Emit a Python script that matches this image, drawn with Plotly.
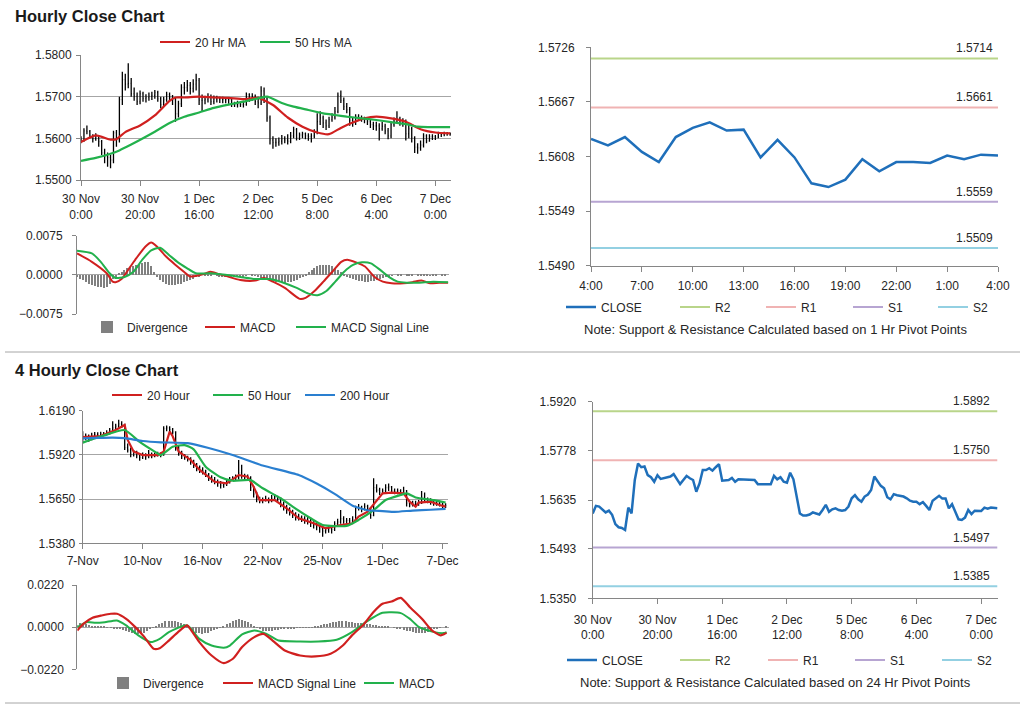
import plotly.graph_objects as go

W, H = 1024, 706
FONT = "Liberation Sans, Arial, sans-serif"
TXT = "#262626"
GRID = "#a6a6a6"
AXIS = "#868686"
RED = "#d0201f"
GREEN = "#22b14c"
BLUE200 = "#2a7fd0"
CLOSE_BLUE = "#1f6fba"
R2_COL = "#b9d58a"
R1_COL = "#f0b3b3"
S1_COL = "#b7a5d2"
S2_COL = "#93d0e2"
BAR_GREY = "#808080"

# ------------------------------------------------------------------ data
# Hourly chart (30 Nov 0:00 -> 7 Dec ~5:00), one value per hour
hourly_tick_hours = [0, 20, 40, 60, 80, 100, 120]
hourly_tick_labels = ["30 Nov<br>0:00", "30 Nov<br>20:00", "1 Dec<br>16:00", "2 Dec<br>12:00",
                      "5 Dec<br>8:00", "6 Dec<br>4:00", "7 Dec<br>0:00"]
hourly_close = [1.5596, 1.5618, 1.5616, 1.5606, 1.5599, 1.5604, 1.5592, 1.5565, 1.5556, 1.5554,
                1.5548, 1.5613, 1.5596, 1.5693, 1.5741, 1.5730, 1.5732, 1.5707, 1.5701, 1.5688,
                1.5707, 1.5696, 1.5698, 1.5701, 1.5703, 1.5710, 1.5695, 1.5681, 1.5693, 1.5705,
                1.5698, 1.5693, 1.5659, 1.5683, 1.5722, 1.5722, 1.5727, 1.5720, 1.5730, 1.5739,
                1.5691, 1.5691, 1.5693, 1.5699, 1.5688, 1.5695, 1.5695, 1.5695, 1.5693, 1.5693,
                1.5693, 1.5681, 1.5681, 1.5681, 1.5681, 1.5681, 1.5705, 1.5695, 1.5701, 1.5688,
                1.5685, 1.5714, 1.5695, 1.5649, 1.5596, 1.5590, 1.5590, 1.5593, 1.5599, 1.5596,
                1.5593, 1.5606, 1.5621, 1.5601, 1.5608, 1.5611, 1.5606, 1.5604, 1.5606, 1.5616,
                1.5640, 1.5649, 1.5637, 1.5630, 1.5645, 1.5651, 1.5664, 1.5703, 1.5691, 1.5676,
                1.5669, 1.5643, 1.5637, 1.5652, 1.5649, 1.5647, 1.5645, 1.5640, 1.5633, 1.5630,
                1.5630, 1.5623, 1.5629, 1.5618, 1.5606, 1.5633, 1.5640, 1.5647, 1.5639, 1.5639,
                1.5611, 1.5623, 1.5601, 1.5579, 1.5577, 1.5584, 1.5606, 1.5594, 1.5604, 1.5604,
                1.5603, 1.5613, 1.5610, 1.5613, 1.5612, 1.5611]
hourly_high = [1.5605, 1.5624, 1.5631, 1.5620, 1.5610, 1.5612, 1.5608, 1.5596, 1.5575, 1.5566,
               1.5560, 1.5618, 1.5620, 1.5700, 1.5760, 1.5755, 1.5780, 1.5745, 1.5722, 1.5710,
               1.5715, 1.5712, 1.5706, 1.5710, 1.5712, 1.5716, 1.5714, 1.5700, 1.5700, 1.5712,
               1.5710, 1.5704, 1.5698, 1.5690, 1.5730, 1.5735, 1.5740, 1.5735, 1.5742, 1.5755,
               1.5745, 1.5705, 1.5702, 1.5708, 1.5705, 1.5703, 1.5702, 1.5700, 1.5700, 1.5698,
               1.5699, 1.5697, 1.5688, 1.5690, 1.5688, 1.5690, 1.5710, 1.5708, 1.5708, 1.5705,
               1.5700, 1.5725, 1.5722, 1.5700, 1.5655, 1.5605, 1.5600, 1.5602, 1.5608, 1.5605,
               1.5610, 1.5615, 1.5628, 1.5625, 1.5614, 1.5616, 1.5614, 1.5612, 1.5612, 1.5622,
               1.5660, 1.5665, 1.5655, 1.5645, 1.5652, 1.5660, 1.5675, 1.5710, 1.5715, 1.5698,
               1.5685, 1.5675, 1.5650, 1.5658, 1.5658, 1.5655, 1.5652, 1.5650, 1.5645, 1.5640,
               1.5640, 1.5636, 1.5640, 1.5635, 1.5625, 1.5640, 1.5650, 1.5665, 1.5652, 1.5648,
               1.5645, 1.5632, 1.5628, 1.5605, 1.5588, 1.5595, 1.5612, 1.5610, 1.5610, 1.5610,
               1.5608, 1.5616, 1.5615, 1.5616, 1.5615, 1.5614]
hourly_low = [1.5588, 1.5592, 1.5610, 1.5600, 1.5590, 1.5594, 1.5580, 1.5560, 1.5540, 1.5532,
              1.5528, 1.5540, 1.5580, 1.5590, 1.5680, 1.5715, 1.5720, 1.5700, 1.5690, 1.5680,
              1.5682, 1.5688, 1.5686, 1.5690, 1.5692, 1.5695, 1.5688, 1.5672, 1.5675, 1.5688,
              1.5690, 1.5680, 1.5640, 1.5650, 1.5675, 1.5705, 1.5712, 1.5705, 1.5710, 1.5715,
              1.5680, 1.5665, 1.5682, 1.5686, 1.5680, 1.5682, 1.5686, 1.5685, 1.5684, 1.5684,
              1.5683, 1.5675, 1.5675, 1.5674, 1.5675, 1.5674, 1.5678, 1.5688, 1.5690, 1.5680,
              1.5672, 1.5680, 1.5685, 1.5640, 1.5585, 1.5575, 1.5580, 1.5582, 1.5585, 1.5588,
              1.5585, 1.5588, 1.5600, 1.5595, 1.5596, 1.5600, 1.5598, 1.5594, 1.5590, 1.5600,
              1.5610, 1.5632, 1.5625, 1.5620, 1.5625, 1.5640, 1.5645, 1.5660, 1.5685, 1.5668,
              1.5660, 1.5630, 1.5628, 1.5632, 1.5642, 1.5640, 1.5636, 1.5632, 1.5625, 1.5620,
              1.5618, 1.5595, 1.5618, 1.5610, 1.5598, 1.5600, 1.5628, 1.5635, 1.5630, 1.5628,
              1.5595, 1.5600, 1.5590, 1.5565, 1.5563, 1.5570, 1.5578, 1.5588, 1.5592, 1.5596,
              1.5596, 1.5600, 1.5603, 1.5605, 1.5606, 1.5606]
ma20_hr_x = [0, 5, 10, 12, 15, 20, 25, 30, 32, 35, 40, 45, 50, 55, 60, 65, 70, 75, 80, 84,
             88, 92, 96, 100, 105, 110, 115, 120, 125]
ma20_hr = [1.5591, 1.5607, 1.5597, 1.5598, 1.5615, 1.5631, 1.5655, 1.5690, 1.5698, 1.5698,
           1.5700, 1.5698, 1.5697, 1.5694, 1.5697, 1.5680, 1.5650, 1.5628, 1.5614, 1.5610,
           1.5625, 1.5638, 1.5648, 1.5652, 1.5648, 1.5640, 1.5622, 1.5614, 1.5612]
ma50_hr_x = [0, 5, 10, 13, 17, 21, 25, 30, 35, 40, 45, 50, 55, 60, 63, 68, 72, 77, 82, 86,
             90, 95, 100, 105, 110, 114, 118, 125]
ma50_hr = [1.5546, 1.5553, 1.5563, 1.5571, 1.5585, 1.5600, 1.5616, 1.5637, 1.5652, 1.5662,
           1.5673, 1.5681, 1.5688, 1.5696, 1.5700, 1.5685, 1.5676, 1.5668, 1.5660, 1.5656,
           1.5652, 1.5648, 1.5644, 1.5639, 1.5634, 1.5628, 1.5627, 1.5627]

# Hourly MACD panel
divergence_hr = [-0.0004, -0.0007, -0.0010, -0.0013, -0.0016, -0.0018, -0.0020, -0.0022, -0.0023, -0.0024,
                 -0.0022, -0.0016, -0.0008, -0.0002, 0.0004, 0.0007, 0.0010, 0.0013, 0.0016, 0.0018,
                 0.0020, 0.0022, 0.0024, 0.0026, 0.0026, 0.0018, 0.0006, -0.0004, -0.0010, -0.0014,
                 -0.0017, -0.0018, -0.0018, -0.0018, -0.0017, -0.0016, -0.0014, -0.0012, -0.0010, -0.0007,
                 -0.0004, -0.0002, 0.0000, 0.0002, 0.0002, 0.0001, 0.0000, -0.0001, -0.0002, -0.0002,
                 -0.0002, -0.0002, -0.0002, -0.0003, -0.0002, -0.0002, -0.0002, -0.0001, 0.0000, 0.0001,
                 -0.0001, -0.0003, -0.0005, -0.0007, -0.0009, -0.0011, -0.0012, -0.0013, -0.0014, -0.0015,
                 -0.0015, -0.0014, -0.0013, -0.0011, -0.0009, -0.0006, -0.0002, 0.0002, 0.0006, 0.0010,
                 0.0014, 0.0017, 0.0019, 0.0020, 0.0020, 0.0019, 0.0017, 0.0014, 0.0010, 0.0006,
                 0.0002, -0.0002, -0.0005, -0.0008, -0.0010, -0.0011, -0.0012, -0.0013, -0.0013, -0.0012,
                 -0.0011, -0.0009, -0.0007, -0.0005, -0.0003, -0.0002, -0.0001, 0.0000, 0.0001, 0.0001,
                 0.0000, 0.0001, 0.0001, 0.0001, 0.0000, 0.0001, 0.0002, 0.0001, 0.0001, -0.0001,
                 0.0001, 0.0001, 0.0000, 0.0001, 0.0001, 0.0000]
macd_hr_x = [0, 5, 10, 12, 13, 15, 18, 20, 23, 25, 27, 30, 33, 36, 38, 40, 43, 45, 48, 50,
             55, 60, 63, 66, 70, 75, 77, 80, 83, 86, 89, 91, 94, 97, 100, 103, 106, 110, 113, 116,
             119, 122, 125]
macd_hr = [0.0041, 0.0025, 0.0003, -0.0013, -0.0014, -0.0008, 0.0016, 0.0032, 0.0054, 0.0062,
           0.0054, 0.0035, 0.0020, 0.0006, -0.0003, -0.0002, 0.0002, 0.0006, 0.0001, -0.0002,
           -0.0010, -0.0011, -0.0006, -0.0013, -0.0025, -0.0046, -0.0044, -0.0031, -0.0013, 0.0006,
           0.0025, 0.0029, 0.0024, 0.0016, -0.0003, -0.0013, -0.0016, -0.0016, -0.0014, -0.0011,
           -0.0016, -0.0015, -0.0015]
signal_hr_x = [0, 5, 8, 11, 13, 16, 19, 22, 25, 28, 31, 34, 37, 40, 45, 50, 55, 60, 65, 70,
               74, 78, 81, 84, 87, 90, 93, 96, 99, 102, 105, 108, 111, 115, 120, 125]
signal_hr = [0.0046, 0.0041, 0.0025, 0.0003, -0.0006, -0.0004, 0.0006, 0.0029, 0.0047, 0.0052,
             0.0038, 0.0024, 0.0013, 0.0003, 0.0003, 0.0000, -0.0004, -0.0008, -0.0008, -0.0016,
             -0.0025, -0.0036, -0.0039, -0.0031, -0.0013, 0.0006, 0.0019, 0.0024, 0.0022, 0.0010,
             -0.0004, -0.0013, -0.0015, -0.0015, -0.0013, -0.0014]

# 1 Hr pivot panel (4:00 -> 4:00)
pivot1_tick_hours = [0, 3, 6, 9, 12, 15, 18, 21, 24]
pivot1_tick_labels = ["4:00", "7:00", "10:00", "13:00", "16:00", "19:00", "22:00", "1:00", "4:00"]
pivot1_close = [1.5627, 1.5620, 1.5629, 1.5613, 1.5602, 1.5629, 1.5639, 1.5645, 1.5636, 1.5637,
                1.5607, 1.5626, 1.5607, 1.5579, 1.5575, 1.5583, 1.5605, 1.5592, 1.5602, 1.5602,
                1.5601, 1.5609, 1.5605, 1.5610, 1.5609]
pivot1_levels = {"R2": 1.5714, "R1": 1.5661, "S1": 1.5559, "S2": 1.5509}
pivot1_yticks = [1.5490, 1.5549, 1.5608, 1.5667, 1.5726]

# 4 hourly chart (7 Nov -> 7 Dec), one value per 4-hour bar
h4_tick_bars = [0, 20, 40, 60, 80, 100, 120]
h4_tick_labels = ["7-Nov", "10-Nov", "16-Nov", "22-Nov", "25-Nov", "1-Dec", "7-Dec"]
h4_close = [1.6020, 1.6035, 1.6015, 1.6040, 1.6045, 1.6040, 1.6050, 1.6045, 1.6055, 1.6070,
            1.6085, 1.6095, 1.6110, 1.6105, 1.5965, 1.5950, 1.5920, 1.5935, 1.5915, 1.5905,
            1.5920, 1.5910, 1.5925, 1.5915, 1.5920, 1.5925, 1.5920, 1.6080, 1.6085, 1.6075,
            1.6060, 1.5960, 1.5930, 1.5910, 1.5905, 1.5895, 1.5880, 1.5860, 1.5840, 1.5830,
            1.5820, 1.5800, 1.5780, 1.5770, 1.5760, 1.5745, 1.5735, 1.5740, 1.5755, 1.5770,
            1.5775, 1.5780, 1.5810, 1.5790, 1.5785, 1.5780, 1.5720, 1.5680, 1.5650, 1.5640,
            1.5645, 1.5650, 1.5640, 1.5655, 1.5660, 1.5650, 1.5620, 1.5600, 1.5580, 1.5570,
            1.5555, 1.5545, 1.5540, 1.5530, 1.5525, 1.5515, 1.5500, 1.5490, 1.5480, 1.5470,
            1.5455, 1.5460, 1.5470, 1.5465, 1.5500, 1.5510, 1.5530, 1.5515, 1.5520, 1.5515,
            1.5525, 1.5595, 1.5600, 1.5590, 1.5605, 1.5595, 1.5550, 1.5720, 1.5705, 1.5690,
            1.5700, 1.5720, 1.5725, 1.5700, 1.5695, 1.5700, 1.5690, 1.5700, 1.5625, 1.5615,
            1.5625, 1.5620, 1.5630, 1.5660, 1.5650, 1.5640, 1.5630, 1.5625, 1.5630, 1.5620,
            1.5615, 1.5610]
h4_high = [1.6065, 1.6050, 1.6045, 1.6055, 1.6060, 1.6058, 1.6062, 1.6060, 1.6070, 1.6085,
           1.6125, 1.6110, 1.6135, 1.6125, 1.6110, 1.5990, 1.5965, 1.5950, 1.5945, 1.5925,
           1.5935, 1.5930, 1.5950, 1.5935, 1.5935, 1.5940, 1.5935, 1.6095, 1.6100, 1.6095,
           1.6085, 1.6065, 1.5975, 1.5945, 1.5925, 1.5915, 1.5905, 1.5890, 1.5870, 1.5855,
           1.5845, 1.5830, 1.5810, 1.5795, 1.5785, 1.5770, 1.5760, 1.5755, 1.5770, 1.5785,
           1.5790, 1.5800, 1.5889, 1.5860, 1.5805, 1.5800, 1.5790, 1.5730, 1.5695, 1.5665,
           1.5660, 1.5670, 1.5660, 1.5675, 1.5680, 1.5670, 1.5660, 1.5635, 1.5615, 1.5600,
           1.5585, 1.5570, 1.5560, 1.5550, 1.5545, 1.5540, 1.5530, 1.5515, 1.5505, 1.5495,
           1.5485, 1.5480, 1.5490, 1.5485, 1.5515, 1.5530, 1.5583, 1.5545, 1.5535, 1.5535,
           1.5545, 1.5610, 1.5620, 1.5610, 1.5625, 1.5615, 1.5600, 1.5777, 1.5740, 1.5720,
           1.5715, 1.5740, 1.5745, 1.5730, 1.5715, 1.5715, 1.5710, 1.5725, 1.5705, 1.5640,
           1.5640, 1.5640, 1.5645, 1.5700, 1.5690, 1.5660, 1.5655, 1.5650, 1.5645, 1.5640,
           1.5630, 1.5625]
h4_low = [1.5995, 1.6010, 1.6000, 1.6010, 1.6030, 1.6028, 1.6032, 1.6035, 1.6038, 1.6045,
          1.6060, 1.6075, 1.6085, 1.6085, 1.5950, 1.5935, 1.5905, 1.5910, 1.5900, 1.5885,
          1.5895, 1.5890, 1.5900, 1.5900, 1.5905, 1.5910, 1.5905, 1.5915, 1.6065, 1.6060,
          1.6045, 1.5945, 1.5915, 1.5895, 1.5890, 1.5880, 1.5860, 1.5840, 1.5820, 1.5810,
          1.5800, 1.5785, 1.5760, 1.5750, 1.5740, 1.5725, 1.5715, 1.5720, 1.5730, 1.5745,
          1.5760, 1.5765, 1.5770, 1.5775, 1.5770, 1.5760, 1.5700, 1.5660, 1.5630, 1.5625,
          1.5625, 1.5635, 1.5625, 1.5630, 1.5640, 1.5630, 1.5600, 1.5580, 1.5560, 1.5550,
          1.5535, 1.5520, 1.5520, 1.5510, 1.5500, 1.5495, 1.5480, 1.5470, 1.5460, 1.5445,
          1.5420, 1.5440, 1.5445, 1.5440, 1.5455, 1.5490, 1.5500, 1.5500, 1.5500, 1.5500,
          1.5505, 1.5515, 1.5580, 1.5570, 1.5580, 1.5575, 1.5530, 1.5545, 1.5690, 1.5675,
          1.5680, 1.5690, 1.5700, 1.5685, 1.5680, 1.5680, 1.5675, 1.5680, 1.5605, 1.5600,
          1.5605, 1.5605, 1.5610, 1.5620, 1.5635, 1.5625, 1.5615, 1.5610, 1.5610, 1.5605,
          1.5585, 1.5595]
ma20_4h_x = [0, 6, 11, 14, 15, 17, 20, 25, 27, 29, 30, 32, 36, 39, 44, 48, 52, 55, 57, 59,
             64, 68, 72, 77, 81, 86, 90, 92, 95, 98, 100, 103, 107, 109, 111, 112, 116, 119, 121]
ma20_4h = [1.6028, 1.6035, 1.6072, 1.6103, 1.6011, 1.5940, 1.5919, 1.5919, 1.5940, 1.6062,
           1.6034, 1.5940, 1.5889, 1.5828, 1.5756, 1.5746, 1.5797, 1.5787, 1.5726, 1.5644,
           1.5644, 1.5594, 1.5533, 1.5502, 1.5472, 1.5492, 1.5502, 1.5543, 1.5573, 1.5644,
           1.5685, 1.5689, 1.5685, 1.5634, 1.5604, 1.5629, 1.5634, 1.5614, 1.5604]
ma50_4h_x = [0, 6, 14, 19, 24, 26, 30, 34, 37, 41, 46, 50, 56, 60, 66, 70, 76, 80, 88, 92,
             97, 101, 106, 108, 111, 117, 121]
ma50_4h = [1.5995, 1.6032, 1.6072, 1.5999, 1.5940, 1.5919, 1.5970, 1.5980, 1.5954, 1.5848,
           1.5783, 1.5762, 1.5766, 1.5716, 1.5655, 1.5604, 1.5533, 1.5492, 1.5486, 1.5523,
           1.5583, 1.5644, 1.5675, 1.5685, 1.5660, 1.5644, 1.5629]
ma200_4h_x = [0, 5, 10, 14, 20, 26, 35, 42, 50, 60, 72, 78, 84, 90, 95, 100, 104, 110, 116, 121]
ma200_4h = [1.6021, 1.6024, 1.6026, 1.6022, 1.6005, 1.5997, 1.5992, 1.5962, 1.5919, 1.5855,
            1.5797, 1.5745, 1.5682, 1.5610, 1.5582, 1.5577, 1.5572, 1.5580, 1.5585, 1.5590]

# 4 hourly MACD panel
divergence_4h = [0.0012, 0.0020, 0.0022, 0.0018, 0.0012, 0.0008, 0.0005, 0.0003, 0.0002, 0.0001,
                 -0.0002, -0.0004, -0.0006, -0.0008, -0.0010, -0.0014, -0.0018, -0.0024, -0.0030, -0.0034,
                 -0.0036, -0.0034, -0.0030, -0.0022, -0.0012, -0.0002, 0.0008, 0.0016, 0.0024, 0.0030,
                 0.0034, 0.0034, 0.0032, 0.0028, 0.0022, 0.0014, 0.0004, -0.0010, -0.0020, -0.0028,
                 -0.0032, -0.0034, -0.0032, -0.0028, -0.0022, -0.0016, -0.0010, -0.0004, 0.0004, 0.0014,
                 0.0024, 0.0032, 0.0038, 0.0040, 0.0038, 0.0034, 0.0026, 0.0016, 0.0006, -0.0004,
                 -0.0012, -0.0018, -0.0020, -0.0020, -0.0018, -0.0016, -0.0014, -0.0012, -0.0010, -0.0008,
                 -0.0006, -0.0005, -0.0004, -0.0003, -0.0002, -0.0002, -0.0002, -0.0001, 0.0002, 0.0006,
                 0.0010, 0.0014, 0.0018, 0.0022, 0.0026, 0.0028, 0.0030, 0.0030, 0.0030, 0.0028,
                 0.0026, 0.0024, 0.0022, 0.0020, 0.0018, 0.0016, 0.0014, 0.0012, 0.0010, 0.0008,
                 0.0006, 0.0004, 0.0002, 0.0000, -0.0002, -0.0006, -0.0010, -0.0014, -0.0018, -0.0022,
                 -0.0026, -0.0028, -0.0030, -0.0030, -0.0028, -0.0024, -0.0018, -0.0012, -0.0006, -0.0002,
                 0.0000, 0.0002]
signal_4h_x = [0, 2, 5, 8, 11, 13, 16, 19, 22, 25, 27, 30, 33, 36, 37, 40, 44, 48, 51, 54,
               58, 61, 64, 68, 73, 78, 83, 87, 90, 94, 97, 100, 103, 106, 109, 113, 116, 119, 120, 121]
signal_4h = [-0.0017, 0.0017, 0.0049, 0.0061, 0.0070, 0.0070, 0.0043, 0.0000, -0.0052, -0.0113,
             -0.0110, -0.0070, -0.0026, 0.0009, -0.0009, -0.0078, -0.0148, -0.0188, -0.0165, -0.0104,
             -0.0052, -0.0035, -0.0070, -0.0122, -0.0148, -0.0153, -0.0139, -0.0096, -0.0043, 0.0017,
             0.0078, 0.0122, 0.0134, 0.0153, 0.0104, 0.0043, -0.0014, -0.0043, -0.0038, -0.0030]
macd_4h_x = [0, 3, 6, 9, 13, 16, 20, 24, 27, 30, 36, 40, 44, 48, 50, 54, 58, 62, 66, 73,
             79, 85, 90, 95, 100, 106, 109, 112, 117, 120, 121]
macd_4h = [0.0000, 0.0026, 0.0023, 0.0026, 0.0035, 0.0009, -0.0043, -0.0078, -0.0061, -0.0026,
           0.0009, -0.0061, -0.0096, -0.0108, -0.0096, -0.0038, -0.0017, -0.0035, -0.0070, -0.0075,
           -0.0075, -0.0066, -0.0026, 0.0031, 0.0075, 0.0073, 0.0043, 0.0000, -0.0026, -0.0031,
           -0.0026]

# 24 Hr pivot panel: hourly close line
pivot24_levels = {"R2": 1.5892, "R1": 1.5750, "S1": 1.5497, "S2": 1.5385}
pivot24_yticks = [1.5350, 1.5493, 1.5635, 1.5778, 1.5920]

hour_idx = list(range(len(hourly_close)))
h4_idx = list(range(len(h4_close)))
pivot1_idx = list(range(len(pivot1_close)))
hourly_open = [hourly_close[0]] + hourly_close[:-1]
h4_open = [h4_close[0]] + h4_close[:-1]

level_colors = {"R2": R2_COL, "R1": R1_COL, "S1": S1_COL, "S2": S2_COL}
level_legendwidth_1 = {"R2": 41, "R1": 42, "S1": 40, "S2": 40}
level_legendwidth_24 = {"R2": 43, "R1": 42, "S1": 42, "S2": 40}


# ------------------------------------------------------------------ helpers
def dom_x(a, b):
    return [a / W, b / W]


def dom_y(top, bottom):
    return [1 - bottom / H, 1 - top / H]


tickfont = dict(size=12, color=TXT, family=FONT)

fig = go.Figure()

# ---- A: hourly price
fig.add_trace(go.Ohlc(x=hour_idx, open=hourly_open, high=hourly_high, low=hourly_low, close=hourly_close,
                      increasing=dict(line=dict(color="black", width=1.3)),
                      decreasing=dict(line=dict(color="black", width=1.3)),
                      tickwidth=0.25, showlegend=False, hoverinfo="skip", xaxis="x", yaxis="y"))
fig.add_trace(go.Scatter(x=ma20_hr_x, y=ma20_hr, mode="lines", name="20 Hr MA", legendwidth=55,
                         line=dict(color=RED, width=2.2, shape="spline", smoothing=0.6),
                         xaxis="x", yaxis="y", legend="legend"))
fig.add_trace(go.Scatter(x=ma50_hr_x, y=ma50_hr, mode="lines", name="50 Hrs MA",
                         line=dict(color=GREEN, width=2.2, shape="spline", smoothing=0.6),
                         xaxis="x", yaxis="y", legend="legend"))

# ---- B: hourly MACD
fig.add_trace(go.Bar(x=hour_idx, y=divergence_hr, width=0.35, name="Divergence",
                     marker=dict(color=BAR_GREY, line=dict(width=0)), legendwidth=68,
                     xaxis="x2", yaxis="y2", legend="legend2"))
fig.add_trace(go.Scatter(x=macd_hr_x, y=macd_hr, mode="lines", name="MACD", legendwidth=46,
                         line=dict(color=RED, width=2, shape="spline", smoothing=0.6),
                         xaxis="x2", yaxis="y2", legend="legend2"))
fig.add_trace(go.Scatter(x=signal_hr_x, y=signal_hr, mode="lines", name="MACD Signal Line",
                         line=dict(color=GREEN, width=2, shape="spline", smoothing=0.6),
                         xaxis="x2", yaxis="y2", legend="legend2"))

# ---- C: 1 Hr pivot chart
fig.add_trace(go.Scatter(x=pivot1_idx, y=pivot1_close, mode="lines", name="CLOSE", legendwidth=69,
                         line=dict(color=CLOSE_BLUE, width=2.5), xaxis="x3", yaxis="y3", legend="legend3"))
for k, v in pivot1_levels.items():
    fig.add_trace(go.Scatter(x=pivot1_idx, y=[v] * len(pivot1_idx), mode="lines", name=k,
                             legendwidth=level_legendwidth_1[k], line=dict(color=level_colors[k], width=2),
                             xaxis="x3", yaxis="y3", legend="legend3"))

# ---- D: 4 hourly price
fig.add_trace(go.Ohlc(x=h4_idx, open=h4_open, high=h4_high, low=h4_low, close=h4_close,
                      increasing=dict(line=dict(color="black", width=1.3)),
                      decreasing=dict(line=dict(color="black", width=1.3)),
                      tickwidth=0.25, showlegend=False, hoverinfo="skip", xaxis="x4", yaxis="y4"))
fig.add_trace(go.Scatter(x=ma20_4h_x, y=ma20_4h, mode="lines", name="20 Hour", legendwidth=56,
                         line=dict(color=RED, width=2.2), xaxis="x4", yaxis="y4", legend="legend4"))
fig.add_trace(go.Scatter(x=ma50_4h_x, y=ma50_4h, mode="lines", name="50 Hour", legendwidth=47,
                         line=dict(color=GREEN, width=2.2, shape="spline", smoothing=0.5),
                         xaxis="x4", yaxis="y4", legend="legend4"))
fig.add_trace(go.Scatter(x=ma200_4h_x, y=ma200_4h, mode="lines", name="200 Hour",
                         line=dict(color=BLUE200, width=2.2, shape="spline", smoothing=0.5),
                         xaxis="x4", yaxis="y4", legend="legend4"))

# ---- E: 4 hourly MACD
fig.add_trace(go.Bar(x=h4_idx, y=divergence_4h, width=0.35, name="Divergence",
                     marker=dict(color=BAR_GREY, line=dict(width=0)), legendwidth=70,
                     xaxis="x5", yaxis="y5", legend="legend5"))
fig.add_trace(go.Scatter(x=macd_4h_x, y=macd_4h, mode="lines", name="MACD",
                         line=dict(color=GREEN, width=2, shape="spline", smoothing=0.6),
                         xaxis="x5", yaxis="y5", showlegend=False, legend="legend5"))
fig.add_trace(go.Scatter(x=signal_4h_x, y=signal_4h, mode="lines", name="MACD Signal Line", legendwidth=96,
                         line=dict(color=RED, width=2.2, shape="spline", smoothing=0.6),
                         xaxis="x5", yaxis="y5", legend="legend5"))
fig.add_trace(go.Scatter(x=[None], y=[None], mode="lines", name="MACD",
                         line=dict(color=GREEN, width=2), xaxis="x5", yaxis="y5", legend="legend5",
                         hoverinfo="skip"))

# ---- F: 24 Hr pivot chart
fig.add_trace(go.Scatter(x=hour_idx, y=hourly_close, mode="lines", name="CLOSE", legendwidth=68,
                         line=dict(color=CLOSE_BLUE, width=2.5), xaxis="x6", yaxis="y6", legend="legend6"))
for k, v in pivot24_levels.items():
    fig.add_trace(go.Scatter(x=[0, hour_idx[-1]], y=[v, v], mode="lines", name=k,
                             legendwidth=level_legendwidth_24[k], line=dict(color=level_colors[k], width=2),
                             xaxis="x6", yaxis="y6", legend="legend6"))

# ------------------------------------------------------------------ axes
base_x = dict(showgrid=False, zeroline=False, showline=True, linecolor=AXIS, linewidth=1,
              ticks="outside", ticklen=5, tickcolor=AXIS, tickfont=tickfont, fixedrange=True,
              automargin=False)
base_y = dict(zeroline=False, showline=True, linecolor=AXIS, linewidth=1, ticks="outside",
              ticklen=4, tickcolor=AXIS, tickfont=tickfont, tickformat=".4f", fixedrange=True,
              automargin=False)

n_hr = len(hourly_close)
n_4h = len(h4_close)

fig.update_layout(
    xaxis=dict(base_x, domain=dom_x(81, 451), anchor="y", range=[0, n_hr - 0.7],
               tickmode="array", tickvals=hourly_tick_hours, ticktext=hourly_tick_labels,
               ticklabelstandoff=3, rangeslider=dict(visible=False)),
    yaxis=dict(base_y, domain=dom_y(55, 180), anchor="x", range=[1.5500, 1.5800],
               tickvals=[1.5500, 1.5600, 1.5700, 1.5800], showgrid=True, gridcolor=GRID,
               ticklabelstandoff=2),
    xaxis2=dict(domain=dom_x(77, 449), anchor="y2", range=[0, n_hr - 0.7], visible=False,
                fixedrange=True, automargin=False),
    yaxis2=dict(base_y, domain=dom_y(235.7, 314), anchor="x2", range=[-0.0075, 0.0075],
                tickvals=[-0.0075, 0.0, 0.0075], showgrid=True, gridcolor=GRID, ticklabelstandoff=7),
    xaxis3=dict(base_x, domain=dom_x(591, 998), anchor="y3", range=[0, len(pivot1_close) - 1],
                tickmode="array", tickvals=pivot1_tick_hours, ticktext=pivot1_tick_labels,
                ticklabelstandoff=4),
    yaxis3=dict(base_y, domain=dom_y(47.3, 265.7), anchor="x3", range=[1.5490, 1.5726],
                tickvals=pivot1_yticks, showgrid=False, ticklabelstandoff=9),
    xaxis4=dict(base_x, domain=dom_x(82.7, 448), anchor="y4", range=[0, n_4h - 0.2],
                tickmode="array", tickvals=h4_tick_bars, ticktext=h4_tick_labels,
                ticklabelstandoff=1, rangeslider=dict(visible=False)),
    yaxis4=dict(base_y, domain=dom_y(410.7, 543.3), anchor="x4", range=[1.5380, 1.6190],
                tickvals=[1.5380, 1.5650, 1.5920, 1.6190], showgrid=True, gridcolor=GRID,
                ticklen=3, ticklabelstandoff=1),
    xaxis5=dict(domain=dom_x(77.3, 449), anchor="y5", range=[0, n_4h - 0.2], visible=False,
                fixedrange=True, automargin=False),
    yaxis5=dict(base_y, domain=dom_y(585, 669.3), anchor="x5", range=[-0.0220, 0.0220],
                tickvals=[-0.0220, 0.0, 0.0220], showgrid=True, gridcolor=GRID, ticklabelstandoff=6),
    xaxis6=dict(base_x, domain=dom_x(592.7, 997.7), anchor="y6", range=[0, n_hr - 0.9],
                tickmode="array", tickvals=hourly_tick_hours, ticktext=hourly_tick_labels,
                ticklabelstandoff=5),
    yaxis6=dict(base_y, domain=dom_y(401.7, 598.3), anchor="x6", range=[1.5350, 1.5920],
                tickvals=pivot24_yticks, showgrid=False, ticklabelstandoff=9),
)


# ------------------------------------------------------------------ legends
def leg(x_px, y_px):
    return dict(orientation="h", x=x_px / W, y=1 - y_px / H, xanchor="left", yanchor="middle",
                bgcolor="rgba(0,0,0,0)", font=dict(size=12, color=TXT, family=FONT),
                itemwidth=30, tracegroupgap=0, itemclick=False, itemdoubleclick=False)


fig.update_layout(
    legend=leg(155, 42),
    legend2=leg(87, 327),
    legend3=leg(561, 307),
    legend4=leg(107, 395),
    legend5=leg(103, 683),
    legend6=leg(562, 660),
)

# ------------------------------------------------------------------ text
annotations = [
    dict(text="<b>Hourly Close Chart</b>", x=13 / W, y=1 - 16 / H, xref="paper", yref="paper",
         xanchor="left", yanchor="middle", showarrow=False,
         font=dict(size=16.5, color="#1a1a1a", family=FONT)),
    dict(text="<b>4 Hourly Close Chart</b>", x=13 / W, y=1 - 370 / H, xref="paper", yref="paper",
         xanchor="left", yanchor="middle", showarrow=False,
         font=dict(size=16.5, color="#1a1a1a", family=FONT)),
    dict(text="Note: Support & Resistance Calculated based on 1 Hr Pivot Points",
         x=775 / W, y=1 - 329 / H, xref="paper", yref="paper", xanchor="center", yanchor="middle",
         showarrow=False, font=dict(size=13, color=TXT, family=FONT)),
    dict(text="Note: Support & Resistance Calculated based on 24 Hr Pivot Points",
         x=775 / W, y=1 - 682 / H, xref="paper", yref="paper", xanchor="center", yanchor="middle",
         showarrow=False, font=dict(size=13, color=TXT, family=FONT)),
]
for k, v in pivot1_levels.items():
    annotations.append(dict(text=f"{v:.4f}", x=len(pivot1_close) - 1, y=v, xref="x3", yref="y3",
                            xanchor="right", yanchor="bottom", xshift=-3, yshift=1, showarrow=False,
                            font=dict(size=12, color=TXT, family=FONT)))
for k, v in pivot24_levels.items():
    annotations.append(dict(text=f"{v:.4f}", x=n_hr - 0.9, y=v, xref="x6", yref="y6",
                            xanchor="right", yanchor="bottom", xshift=-6, yshift=1, showarrow=False,
                            font=dict(size=12, color=TXT, family=FONT)))

shapes = [
    dict(type="line", xref="paper", yref="paper", x0=5 / W, x1=1020 / W, y0=1 - 352 / H, y1=1 - 352 / H,
         line=dict(color="#a6a6a6", width=1)),
    dict(type="line", xref="paper", yref="paper", x0=5 / W, x1=1020 / W, y0=1 - 703 / H, y1=1 - 703 / H,
         line=dict(color="#a6a6a6", width=1)),
]

fig.update_layout(
    width=W, height=H, margin=dict(l=0, r=0, t=0, b=0, pad=0), autosize=False,
    paper_bgcolor="white", plot_bgcolor="white",
    font=dict(family=FONT, color=TXT, size=12),
    barmode="overlay", bargap=0, hovermode=False,
    annotations=annotations, shapes=shapes,
)

fig.write_html("out.html", config={"displayModeBar": False},
               post_script="document.body.style.margin='0px';document.body.style.overflow='hidden';")
